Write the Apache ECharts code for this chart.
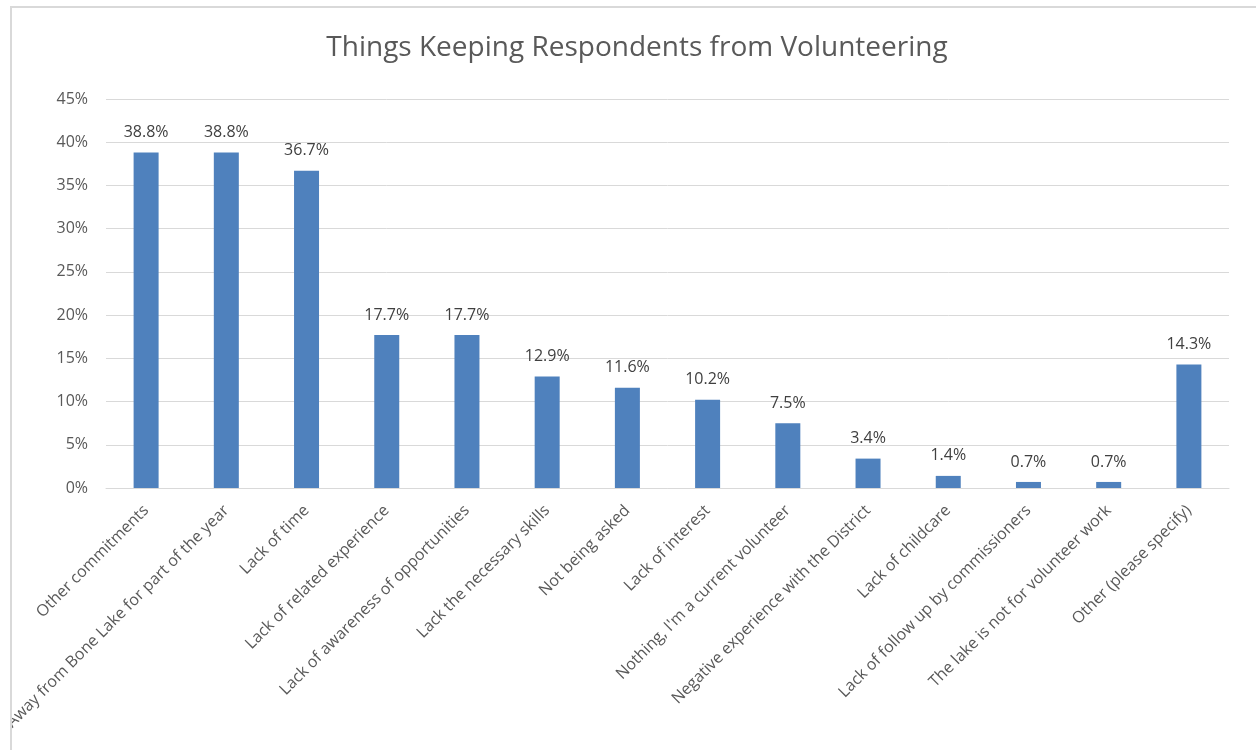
<!DOCTYPE html>
<html>
<head>
<meta charset="utf-8">
<script src="https://cdn.jsdelivr.net/npm/echarts@6/dist/echarts.min.js"></script>
<style>
  html, body { margin: 0; padding: 0; background: #fff; overflow: hidden; }
  #chart {
    position: absolute;
    left: 10px;
    top: 6px;
    width: 1250px;
    height: 742px;
    border-left: 2px solid #d9d9d9;
    border-top: 2px solid #d9d9d9;
  }
</style>
</head>
<body>
<div id="chart"></div>
<script>
const categories = [
  "Other commitments",
  "Away from Bone Lake for part of the year",
  "Lack of time",
  "Lack of related experience",
  "Lack of awareness of opportunities",
  "Lack the necessary skills",
  "Not being asked",
  "Lack of interest",
  "Nothing, I'm a current volunteer",
  "Negative experience with the District",
  "Lack of childcare",
  "Lack of follow up by commissioners",
  "The lake is not for volunteer work",
  "Other (please specify)"
];
const values = [38.8, 38.8, 36.7, 17.7, 17.7, 12.9, 11.6, 10.2, 7.5, 3.4, 1.4, 0.7, 0.7, 14.3];
const yTicks = { min: 0, max: 45, interval: 5 };

const FONT = "Open Sans";
const chart = echarts.init(document.getElementById("chart"));
chart.setOption({
  animation: false,
  title: {
    text: "Things Keeping Respondents from Volunteering",
    left: "center",
    top: 21,
    textStyle: { fontFamily: FONT, fontSize: 28, fontWeight: "normal", color: "#595959" }
  },
  // keep the plot fixed; long labels may run off the left edge like the original
  grid: { left: 94, right: 33, top: 91, bottom: 262, outerBoundsMode: "none", containLabel: false },
  xAxis: {
    type: "category",
    data: categories,
    axisTick: { show: false },
    axisLine: { lineStyle: { color: "#d9d9d9", width: 1 } },
    axisLabel: {
      interval: 0,
      rotate: 45,
      margin: 20,
      fontFamily: FONT,
      fontSize: 16,
      color: "#595959"
    }
  },
  yAxis: {
    type: "value",
    min: yTicks.min,
    max: yTicks.max,
    interval: yTicks.interval,
    axisLine: { show: false },
    axisTick: { show: false },
    splitLine: { lineStyle: { color: "#d9d9d9", width: 1 } },
    axisLabel: {
      margin: 18,
      fontFamily: FONT,
      fontSize: 16,
      color: "#595959",
      formatter: v => v + "%"
    }
  },
  series: [{
    type: "bar",
    data: values,
    barWidth: 25,
    itemStyle: { color: "#4f81bd" },
    label: {
      show: true,
      position: "top",
      distance: 12,
      fontFamily: FONT,
      fontSize: 16,
      color: "#404040",
      formatter: p => p.value.toFixed(1) + "%"
    }
  }]
});
</script>
</body>
</html>
